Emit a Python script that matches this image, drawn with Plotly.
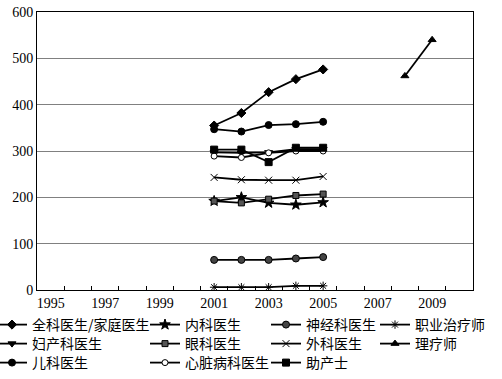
import plotly.graph_objects as go

years = [2001, 2002, 2003, 2004, 2005]
gp = [355, 382, 427, 455, 476]          # 全科医生/家庭医生
internal = [192, 200, 188, 184, 189]    # 内科医生
neuro = [65, 65, 65, 68, 71]            # 神经科医生
occ = [6, 6, 6, 9, 9]                   # 职业治疗师
obgyn = [297, 296, 297, 304, 304]       # 妇产科医生
eye = [192, 188, 196, 204, 207]         # 眼科医生
surgery = [243, 238, 237, 237, 245]     # 外科医生
physio_years = [2008, 2009]
physio = [462, 540]                     # 理疗师
peds = [347, 342, 356, 358, 363]        # 儿科医生
cardio = [289, 286, 296, 300, 300]      # 心脏病科医生
midwife = [303, 303, 276, 307, 307]     # 助产士

all_years = list(range(1995, 2011))
tick_years = list(range(1995, 2010, 2))

serif = "Liberation Serif"
cjk = "Noto Sans CJK SC"

W, H = 502, 379
L, R, T, B = 37, 29, 12, 89
pw, ph = W - L - R, H - T - B

def px2x(p):
    return (p - L) / pw

def px2y(p):
    return (H - B - p) / ph

# legend grid: column text-start (minus plotly symbol gap) and row centres
col_px = [-8, 145, 266, 375]
row_px = [325, 344, 363]

fig = go.Figure()
legends = {}

def add(name, x, y, symbol, col, row, size=7, fill="black", lw=1.0):
    key = "legend" if not legends else f"legend{len(legends) + 1}"
    legends[key] = dict(
        x=px2x(col_px[col]), y=px2y(row_px[row]),
        xanchor="left", yanchor="middle", orientation="v",
        font=dict(family=cjk, size=14, color="black"),
        bgcolor="rgba(0,0,0,0)", itemwidth=30,
    )
    fig.add_trace(go.Scatter(
        x=x, y=y, name=name, mode="lines+markers", legend=key,
        line=dict(color="black", width=1.8),
        marker=dict(symbol=symbol, size=size, color=fill,
                    line=dict(color="black", width=lw)),
    ))

add("全科医生/家庭医生", years, gp, "diamond", 0, 0)
add("内科医生", years, internal, "star", 1, 0, size=8)
add("神经科医生", years, neuro, "circle", 2, 0, fill="#444")
add("职业治疗师", years, occ, "asterisk-open", 3, 0)
add("妇产科医生", years, obgyn, "triangle-down", 0, 1)
add("眼科医生", years, eye, "square", 1, 1, size=6, fill="#555")
add("外科医生", years, surgery, "x-thin-open", 2, 1)
add("理疗师", physio_years, physio, "triangle-up", 3, 1)
add("儿科医生", years, peds, "circle", 0, 2)
add("心脏病科医生", years, cardio, "circle", 1, 2, size=6, fill="white")
add("助产士", years, midwife, "square", 2, 2)

fig.update_layout(
    width=W, height=H,
    margin=dict(l=L, r=R, t=T, b=B, autoexpand=False),
    paper_bgcolor="white", plot_bgcolor="white",
    font=dict(family=serif, size=14, color="black"),
    showlegend=True,
    **legends,
    xaxis=dict(
        range=[all_years[0] - 0.5, all_years[-1] + 0.5],
        tickmode="array", tickvals=tick_years,
        ticktext=[str(y) for y in tick_years],
        ticks="", showgrid=False, zeroline=False,
        showline=True, linecolor="black", linewidth=1, mirror=True,
        tickfont=dict(family=serif, size=14, color="black"),
        minor=dict(tickmode="array",
                   tickvals=[y + 0.5 for y in all_years[:-1]],
                   ticks="inside", ticklen=4, tickcolor="black", showgrid=False),
    ),
    yaxis=dict(
        range=[0, 600], tickmode="linear", tick0=0, dtick=100,
        ticks="", showgrid=True, gridcolor="#808080", gridwidth=1,
        zeroline=False, showline=True, linecolor="black", linewidth=1, mirror=True,
        tickfont=dict(family=serif, size=14, color="black"),
    ),
)

fig.write_html("out.html", config={"displayModeBar": False},
               post_script="document.body.style.margin='0';")
